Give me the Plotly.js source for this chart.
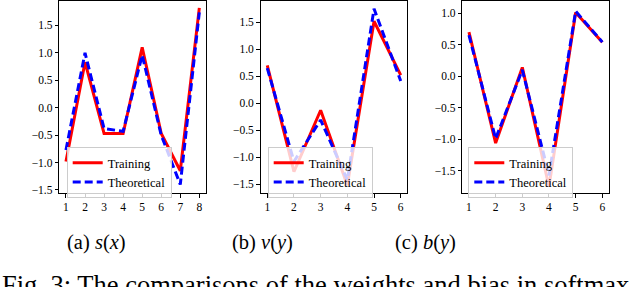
<!DOCTYPE html>
<html><head><meta charset="utf-8">
<script src="https://cdn.plot.ly/plotly-3.0.1.min.js"></script>
<style>html,body{margin:0;padding:0;background:#fff}#chart{width:640px;height:287px}</style>
</head><body><div id="chart"></div>
<script>
// ---- data ----
const xS = [1, 2, 3, 4, 5, 6, 7, 8];
const sTraining    = [-0.98, 0.83, -0.47, -0.47, 1.10, -0.47, -1.15, 1.82];
const sTheoretical = [-0.77, 1.00, -0.38, -0.43, 0.96, -0.50, -1.40, 1.74];
const xV = [1, 2, 3, 4, 5, 6];
const vTraining    = [0.70, -1.27, -0.13, -1.52, 1.52, 0.52];
const vTheoretical = [0.65, -1.08, -0.31, -1.42, 1.75, 0.41];
const xB = [1, 2, 3, 4, 5, 6];
const bTraining    = [0.70, -1.06, 0.14, -1.75, 1.01, 0.54];
const bTheoretical = [0.65, -0.99, 0.10, -1.57, 1.03, 0.54];
const seriesNames = ['Training', 'Theoretical'];
const captions = ['(a) <i>s</i>(<i>x</i>)', '(b) <i>v</i>(<i>y</i>)', '(c) <i>b</i>(<i>y</i>)'];
const figCaption = 'Fig. 3: The comparisons of the weights and bias in softmax';

// ---- layout helpers ----
const W = 640, H = 287;
const px = x => x / W;
const py = y => 1 - y / H;
const FONT = "'Liberation Serif', 'Times New Roman', 'DejaVu Serif', serif";

const panels = [
  {x: xS, tr: sTraining, th: sTheoretical, left: 59.3, right: 206.0, xr: [0.65, 8.35], yr: [-1.555, 1.955], yt: [-1.5, -1, -0.5, 0, 0.5, 1, 1.5], leg: 66.7, cap: 96.7},
  {x: xV, tr: vTraining, th: vTheoretical, left: 260.6, right: 407.4, xr: [0.75, 6.25], yr: [-1.664, 1.904], yt: [-1.5, -1, -0.5, 0, 0.5, 1, 1.5], leg: 267.7, cap: 262},
  {x: xB, tr: bTraining, th: bTheoretical, left: 462.3, right: 609.0, xr: [0.75, 6.25], yr: [-1.851, 1.20], yt: [-1.5, -1, -0.5, 0, 0.5, 1], leg: 468.3, cap: 425}
];

const traces = [];
const layout = {
  width: W, height: H,
  margin: {l: 0, r: 0, t: 0, b: 0},
  paper_bgcolor: '#fff', plot_bgcolor: '#fff',
  font: {family: FONT, size: 11, color: '#000'},
  annotations: []
};

panels.forEach((p, i) => {
  const n = i === 0 ? '' : String(i + 1);
  const xa = 'x' + n, ya = 'y' + n;
  const lg = 'legend' + n;
  traces.push({x: p.x, y: p.tr, xaxis: xa, yaxis: ya, type: 'scatter', mode: 'lines',
    name: seriesNames[0], legend: lg, line: {color: '#ff0000', width: 3}});
  traces.push({x: p.x, y: p.th, xaxis: xa, yaxis: ya, type: 'scatter', mode: 'lines',
    name: seriesNames[1], legend: lg, line: {color: '#0000ff', width: 3, dash: '8px,4px'}});
  const axCommon = {showgrid: false, zeroline: false, showline: true, mirror: true,
    linecolor: '#000', linewidth: 1, ticks: 'outside', ticklen: 3.5, tickwidth: 1,
    tickcolor: '#000', tickfont: {family: FONT, size: 11.5, color: '#000'}, fixedrange: true};
  layout['xaxis' + n] = Object.assign({}, axCommon, {
    domain: [px(p.left), px(p.right)], range: p.xr, anchor: ya,
    tickmode: 'array', tickvals: p.x, ticktext: p.x.map(String)});
  layout['yaxis' + n] = Object.assign({}, axCommon, {
    domain: [py(193), py(0.5)], range: p.yr, anchor: xa,
    tickmode: 'array', tickvals: p.yt, ticktext: p.yt.map(v => (v < 0 ? '\u2212' : '') + Math.abs(v).toFixed(1))});
  layout[lg] = {x: px(p.leg), y: py(147), xanchor: 'left', yanchor: 'top', xref: 'paper', yref: 'paper',
    bgcolor: 'rgba(255,255,255,0.8)', bordercolor: '#cccccc', borderwidth: 1,
    font: {family: FONT, size: 12.5, color: '#000'}, traceorder: 'normal', tracegroupgap: 0};
  layout.annotations.push({text: captions[i], x: px(p.cap), y: py(242), xref: 'paper', yref: 'paper',
    xanchor: 'center', yanchor: 'middle', showarrow: false, font: {family: FONT, size: 20.5, color: '#000'}});
});

layout.annotations.push({text: figCaption, x: 0, y: py(268), xref: 'paper', yref: 'paper',
  xanchor: 'left', yanchor: 'top', showarrow: false, font: {family: FONT, size: 26.5, color: '#000'}});

Plotly.newPlot('chart', traces, layout, {displayModeBar: false, staticPlot: true});
</script></body></html>
